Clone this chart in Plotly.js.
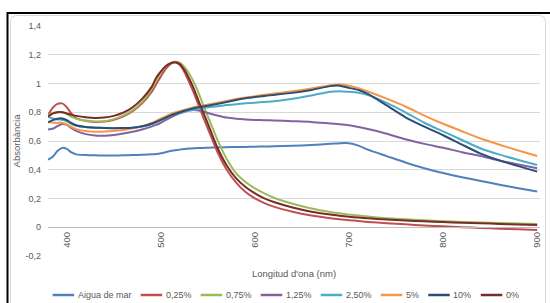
<!DOCTYPE html>
<html><head><meta charset="utf-8">
<script src="https://cdn.plot.ly/plotly-3.0.1.min.js"></script>
<style>html,body{margin:0;padding:0;background:#fff}#chart{width:550px;height:303px}</style>
</head><body><div id="chart"></div>
<script>
// ---- data ----
const wavelengths = [380,385,390,395,400,405,410,420,430,440,450,460,470,480,490,495,500,505,510,515,520,525,530,535,540,545,550,560,570,580,590,600,610,620,640,660,680,690,700,710,720,740,760,780,800,820,840,860,880,900];

const aiguaDeMar = [0.47,0.49,0.53,0.552,0.545,0.52,0.507,0.502,0.500,0.499,0.499,0.500,0.502,0.504,0.507,0.510,0.515,0.522,0.530,0.535,0.540,0.544,0.547,0.549,0.551,0.552,0.553,0.555,0.557,0.558,0.559,0.560,0.562,0.563,0.567,0.572,0.580,0.585,0.585,0.568,0.540,0.495,0.450,0.410,0.377,0.348,0.322,0.296,0.271,0.248];

const conc025 = [0.78,0.83,0.858,0.862,0.835,0.79,0.76,0.74,0.733,0.735,0.748,0.772,0.808,0.862,0.94,0.995,1.05,1.10,1.135,1.148,1.13,1.08,1.01,0.935,0.85,0.765,0.685,0.525,0.40,0.31,0.245,0.20,0.168,0.143,0.108,0.082,0.063,0.056,0.049,0.043,0.037,0.028,0.020,0.012,0.006,0.0,-0.005,-0.010,-0.015,-0.019];

const conc075 = [0.78,0.795,0.80,0.80,0.787,0.768,0.755,0.742,0.736,0.738,0.752,0.778,0.815,0.872,0.958,1.025,1.075,1.118,1.142,1.152,1.145,1.115,1.07,1.01,0.935,0.85,0.77,0.61,0.475,0.375,0.315,0.27,0.235,0.205,0.163,0.13,0.106,0.097,0.088,0.081,0.074,0.063,0.055,0.048,0.042,0.037,0.033,0.029,0.026,0.023];

const conc125 = [0.68,0.685,0.703,0.718,0.712,0.69,0.67,0.648,0.638,0.637,0.642,0.652,0.664,0.68,0.70,0.712,0.727,0.745,0.762,0.778,0.792,0.804,0.812,0.815,0.812,0.805,0.795,0.778,0.763,0.755,0.75,0.747,0.745,0.743,0.738,0.733,0.722,0.717,0.71,0.698,0.683,0.65,0.612,0.58,0.553,0.522,0.495,0.463,0.437,0.41];

const conc250 = [0.77,0.757,0.75,0.748,0.737,0.718,0.706,0.697,0.693,0.69,0.689,0.69,0.692,0.70,0.717,0.73,0.745,0.76,0.775,0.787,0.797,0.805,0.812,0.818,0.824,0.829,0.834,0.842,0.85,0.856,0.862,0.867,0.872,0.877,0.894,0.917,0.943,0.947,0.942,0.935,0.92,0.865,0.80,0.727,0.667,0.607,0.548,0.505,0.468,0.433];

const conc5 = [0.735,0.728,0.726,0.727,0.715,0.697,0.683,0.670,0.665,0.666,0.670,0.677,0.688,0.702,0.725,0.740,0.757,0.772,0.786,0.798,0.808,0.818,0.826,0.835,0.842,0.848,0.854,0.866,0.879,0.892,0.903,0.912,0.922,0.93,0.946,0.966,0.988,0.993,0.985,0.968,0.945,0.895,0.84,0.777,0.72,0.668,0.617,0.574,0.534,0.495];

const conc10 = [0.73,0.745,0.755,0.757,0.745,0.725,0.71,0.698,0.693,0.69,0.689,0.69,0.693,0.702,0.72,0.733,0.747,0.762,0.777,0.79,0.80,0.81,0.82,0.828,0.835,0.84,0.846,0.858,0.872,0.885,0.897,0.906,0.914,0.921,0.935,0.955,0.982,0.985,0.97,0.955,0.928,0.848,0.765,0.70,0.64,0.575,0.512,0.465,0.425,0.387];

const conc0 = [0.77,0.79,0.80,0.80,0.792,0.782,0.775,0.765,0.76,0.763,0.775,0.797,0.835,0.893,0.975,1.04,1.085,1.12,1.14,1.148,1.135,1.095,1.035,0.965,0.88,0.80,0.72,0.555,0.43,0.34,0.28,0.235,0.20,0.175,0.137,0.108,0.088,0.08,0.073,0.067,0.062,0.054,0.047,0.041,0.036,0.031,0.027,0.023,0.019,0.016];

const seriesNames  = ['Aigua de mar','0,25%','0,75%','1,25%','2,50%','5%','10%','0%'];
const seriesValues = [aiguaDeMar, conc025, conc075, conc125, conc250, conc5, conc10, conc0];
const seriesColors = ['#4F81BD','#C0504D','#9BBB59','#8064A2','#4BACC6','#F79646','#2C4D75','#772C2A'];

const yTickVals = [-0.2,0,0.2,0.4,0.6,0.8,1,1.2,1.4];
const yTickText = ['-0,2','0','0,2','0,4','0,6','0,8','1','1,2','1,4'];
const xTickVals = [400,500,600,700,800,900];
const xTickText = ['400','500','600','700','800','900'];

const xTitle = "Longitud d'ona (nm)";
const yTitle = 'Absorbància';

// ---- layout geometry ----
const W = 550, H = 303;
const M = {l:48, r:10, t:26, b:47};
const PW = W - M.l - M.r, PH = H - M.t - M.b;
const px = x => (x - M.l) / PW;
const py = y => (H - M.b - y) / PH;
const yRange = [-0.2005, 1.4005];
const FONT = 'Liberation Sans, Arial, sans-serif';
const GREY = '#595959';

const traces = seriesNames.map((n, i) => ({
  type: 'scatter', mode: 'lines', name: n,
  x: wavelengths, y: seriesValues[i],
  line: {color: seriesColors[i], width: 2, shape: 'spline', smoothing: 0.6},
  hoverinfo: 'skip', showlegend: false
}));

// manual legend (Excel style: short line + label)
const ctx = document.createElement('canvas').getContext('2d');
ctx.font = '9px "Liberation Sans"';
const lineLen = 21.5, txtGap = 1.5, entryGap = 11.5;
const widths = seriesNames.map(n => lineLen + txtGap + ctx.measureText(n).width);
const total = widths.reduce((a, b) => a + b, 0) + entryGap * (seriesNames.length - 1);
let cx = 284.7 - total / 2;
const legY = 295;
const shapes = [], annotations = [];
seriesNames.forEach((n, i) => {
  shapes.push({type:'line', xref:'paper', yref:'paper', x0:px(cx), x1:px(cx+lineLen), y0:py(legY), y1:py(legY),
    line:{color:seriesColors[i], width:2.5}});
  annotations.push({xref:'paper', yref:'paper', x:px(cx+lineLen+txtGap), y:py(legY), xanchor:'left', yanchor:'middle',
    text:n, showarrow:false, font:{family:FONT, size:9, color:GREY}});
  cx += widths[i] + entryGap;
});

// chart frame: black outer border and light rounded inner border
shapes.push({type:'rect', xref:'paper', yref:'paper', x0:px(7.5), x1:px(565), y0:py(13), y1:py(330),
  line:{color:'#000', width:2}, layer:'above'});
const r = 7, L = 10.5, T = 15.5, R = 545.5, B = 330;
const pth = `M ${px(L)},${py(B)} L ${px(L)},${py(T + r)} Q ${px(L)},${py(T)} ${px(L + r)},${py(T)} L ${px(R - r)},${py(T)} Q ${px(R)},${py(T)} ${px(R)},${py(T + r)} L ${px(R)},${py(B)}`;
shapes.push({type:'path', xref:'paper', yref:'paper', path:pth, line:{color:'#D9D9D9', width:1}, layer:'below'});

const layout = {
  width: W, height: H, margin: M,
  paper_bgcolor: '#fff', plot_bgcolor: '#fff',
  font: {family: FONT, size: 9, color: GREY},
  showlegend: false,
  xaxis: {
    range: [380, 903], showgrid: false, zeroline: false,
    showline: true, linecolor: '#BFBFBF', linewidth: 1,
    anchor: 'free', position: (0 - yRange[0]) / (yRange[1] - yRange[0]),
    tickmode: 'array', tickvals: xTickVals, ticktext: xTickText,
    tickangle: -90, ticks: '', tickfont: {family: FONT, size: 9.5, color: GREY},
    title: {text: xTitle, font: {family: FONT, size: 9.5, color: GREY}, standoff: 23},
    automargin: false, fixedrange: true
  },
  yaxis: {
    range: yRange, showgrid: true, gridcolor: '#D9D9D9', gridwidth: 1,
    zeroline: false, showline: false,
    tickmode: 'array', tickvals: yTickVals, ticktext: yTickText,
    ticks: '', ticklabelstandoff: 6, tickfont: {family: FONT, size: 9, color: GREY},
    title: {text: yTitle, font: {family: FONT, size: 9.5, color: GREY}, standoff: 3},
    automargin: false, fixedrange: true
  },
  shapes: shapes,
  annotations: annotations
};

Plotly.newPlot('chart', traces, layout, {staticPlot: true, displayModeBar: false});
</script>
</body></html>
